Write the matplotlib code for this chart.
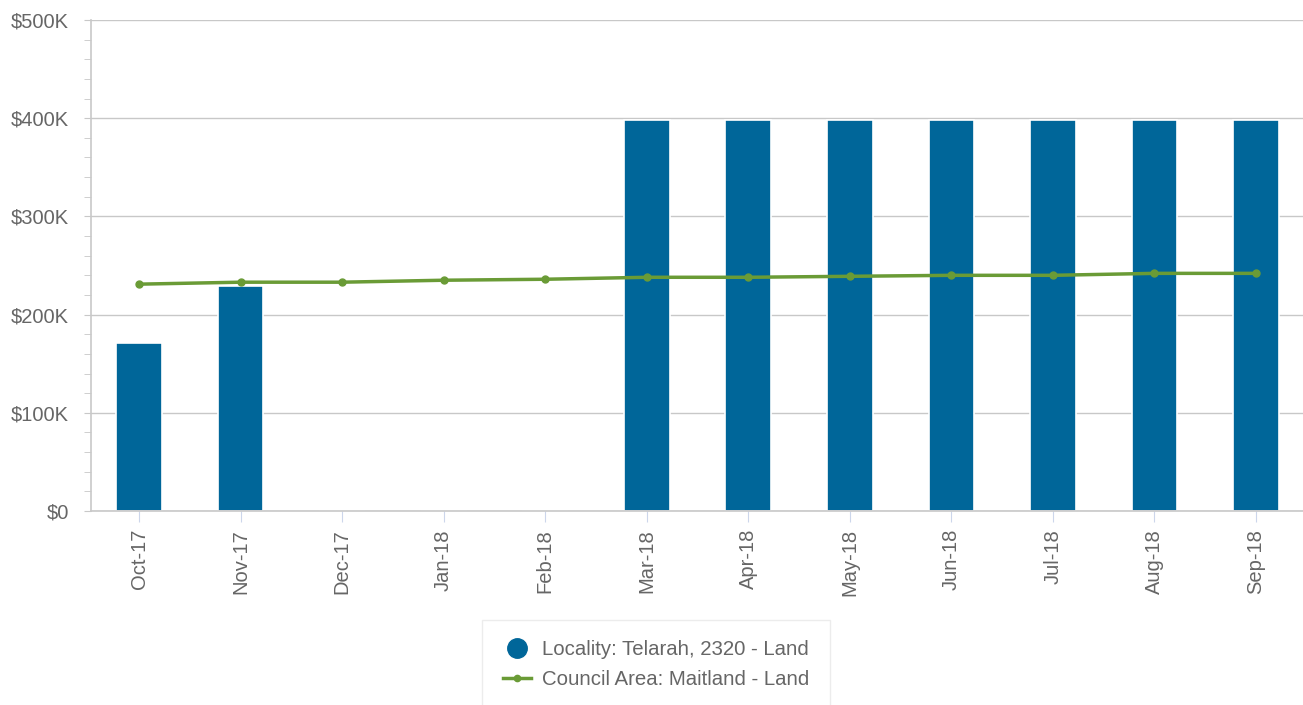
import matplotlib
matplotlib.use('Agg')
import numpy as np
import matplotlib.pyplot as plt
from matplotlib.lines import Line2D
from matplotlib.ticker import FuncFormatter, MultipleLocator

months = ['Oct-17', 'Nov-17', 'Dec-17', 'Jan-18', 'Feb-18', 'Mar-18',
          'Apr-18', 'May-18', 'Jun-18', 'Jul-18', 'Aug-18', 'Sep-18']
locality_vals = [171000, 229000, 0, 0, 0, 398000, 398000, 398000, 398000, 398000, 398000, 398000]
council_vals = [231000, 233000, 233000, 235000, 236000, 238000, 238000, 239000, 240000, 240000, 242000, 242000]

bar_color = '#006699'
line_color = '#6a9b36'
grid_color = '#c8c8c8'
text_color = '#666666'

plt.rcParams['font.family'] = ['Liberation Sans', 'DejaVu Sans']

fig = plt.figure(figsize=(13.03, 7.05), dpi=100)
ax = fig.add_axes([91/1303, 1 - 511/705, 1212/1303, 491/705])

x = np.arange(len(months))
ax.bar(x, locality_vals, 0.45, color=bar_color, edgecolor='white', linewidth=1.2, zorder=2)
ax.plot(x, council_vals, color=line_color, linewidth=2.5, marker='o', markersize=5, zorder=3)

ax.set_xlim(-0.473, 11.463)
ax.set_ylim(0, 500000)
ax.yaxis.set_major_locator(MultipleLocator(100000))
ax.yaxis.set_minor_locator(MultipleLocator(20000))
ax.yaxis.set_major_formatter(FuncFormatter(lambda v, p: '$0' if v == 0 else '$%dK' % (v / 1000)))
ax.grid(axis='y', color=grid_color, linewidth=1, zorder=0)
ax.set_axisbelow(True)

ax.set_xticks(x)
ax.set_xticklabels(months, rotation=90)

for s in ['top', 'right']:
    ax.spines[s].set_visible(False)
ax.spines['left'].set_color(grid_color)
ax.spines['bottom'].set_color(grid_color)
ax.spines['left'].set_linewidth(1.2)
ax.spines['bottom'].set_linewidth(1.2)

ax.tick_params(axis='y', which='major', length=5, color=grid_color, labelcolor=text_color, labelsize=14.5, pad=11)
ax.tick_params(axis='y', which='minor', length=5, color=grid_color)
ax.tick_params(axis='x', length=8, color='#ccd6eb', labelcolor=text_color, labelsize=14.5, pad=5)

handles = [
    Line2D([], [], linestyle='none', marker='o', markersize=14, color=bar_color),
    Line2D([], [], color=line_color, linewidth=2.5, marker='o', markersize=4.5),
]
labels = ['Locality: Telarah, 2320 - Land', 'Council Area: Maitland - Land']
leg = fig.legend(handles, labels, loc='upper center', bbox_to_anchor=(0.5035, 1 - 620/705),
                 fontsize=14.7, frameon=True, fancybox=False, borderpad=1.0,
                 handlelength=1.4, handletextpad=0.55, labelspacing=0.52, borderaxespad=0)
leg.get_frame().set_edgecolor('#e8e8e8')
for t in leg.get_texts():
    t.set_color(text_color)

fig.savefig('out.png', dpi=100)
